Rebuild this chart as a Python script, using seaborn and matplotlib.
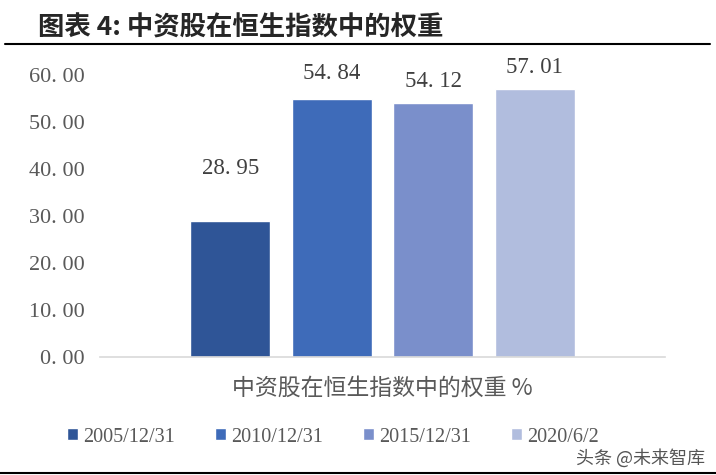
import pandas as pd
import matplotlib.pyplot as plt
import seaborn as sns
from matplotlib.lines import Line2D

# data
dates = ["2005/12/31", "2010/12/31", "2015/12/31", "2020/6/2"]
weights = [28.95, 54.84, 54.12, 57.01]
category = "中资股在恒生指数中的权重 %"
colors = ["#2F5597", "#3E6BB9", "#7A8FCB", "#B1BDDE"]
yticks = [0, 10, 20, 30, 40, 50, 60]

df = pd.DataFrame({"cat": [category] * len(dates), "date": dates, "weight": weights})

sns.set_style("white")
plt.rcParams["font.family"] = ["Liberation Serif", "Noto Sans CJK SC", "DejaVu Sans"]

fig = plt.figure(figsize=(7.16, 4.75), dpi=100)
ax = fig.add_axes([100 / 716, 1 - 357 / 475, 565 / 716, 282 / 475])

sns.barplot(data=df, x="cat", y="weight", hue="date", palette=colors,
            width=0.7186, gap=0.21, ax=ax, saturation=1)

ax.set_ylim(0, 60)
ax.set_xlim(-0.5, 0.5)
ax.set_yticks(yticks)
ax.set_yticklabels([f"{v:.2f}".replace(".", ". ") for v in yticks],
                   fontsize=16, color="#595959", family="Liberation Serif")
ax.tick_params(axis="y", length=0, pad=11)
ax.tick_params(axis="x", length=0, pad=14)
for lab in ax.get_xticklabels():
    lab.set_fontfamily(["Noto Sans CJK SC", "DejaVu Sans"])
    lab.set_fontsize(16.5)
    lab.set_color("#595959")
ax.set_xlabel("")
ax.set_ylabel("")
for s in ["top", "right", "left"]:
    ax.spines[s].set_visible(False)
ax.spines["bottom"].set_color("#D9D9D9")
ax.spines["bottom"].set_linewidth(1.2)

# value labels (Excel placed them at uneven offsets)
pads = [30, 11, 8, 8]
for cont, pad in zip(ax.containers, pads):
    ax.bar_label(cont, labels=[f"{v:.2f}".replace(".", ". ") for v in cont.datavalues],
                 padding=pad, fontsize=16.5, color="#404040",
                 family="Liberation Serif", clip_on=False)

sns.move_legend(ax, "center", bbox_to_anchor=(333 / 716, 1 - 437 / 475),
                bbox_transform=fig.transFigure, ncol=4, frameon=False, title=None,
                fontsize=14.5, handlelength=0.55, handleheight=0.55,
                handletextpad=0.25, columnspacing=2.0)
for t in ax.get_legend().get_texts():
    t.set_color("#595959")
    t.set_fontfamily("Liberation Serif")

# title and rules
fig.text(38 / 716, 1 - 28 / 475, "图表 4: 中资股在恒生指数中的权重", fontsize=19,
         fontweight="bold", family=["Noto Sans CJK SC", "DejaVu Sans"],
         va="center", ha="left")
fig.add_artist(Line2D([5 / 716, 710 / 716], [1 - 44 / 475, 1 - 44 / 475],
                      color="black", lw=1.5, transform=fig.transFigure))
fig.add_artist(Line2D([0, 1], [1 - 473 / 475, 1 - 473 / 475],
                      color="black", lw=1.5, transform=fig.transFigure))
fig.text(705 / 716, 1 - 458 / 475, "头条 @未来智库", fontsize=13, color="#555555",
         family=["Noto Sans CJK SC", "DejaVu Sans"], ha="right", va="center")

fig.savefig("out.png", dpi=100)
